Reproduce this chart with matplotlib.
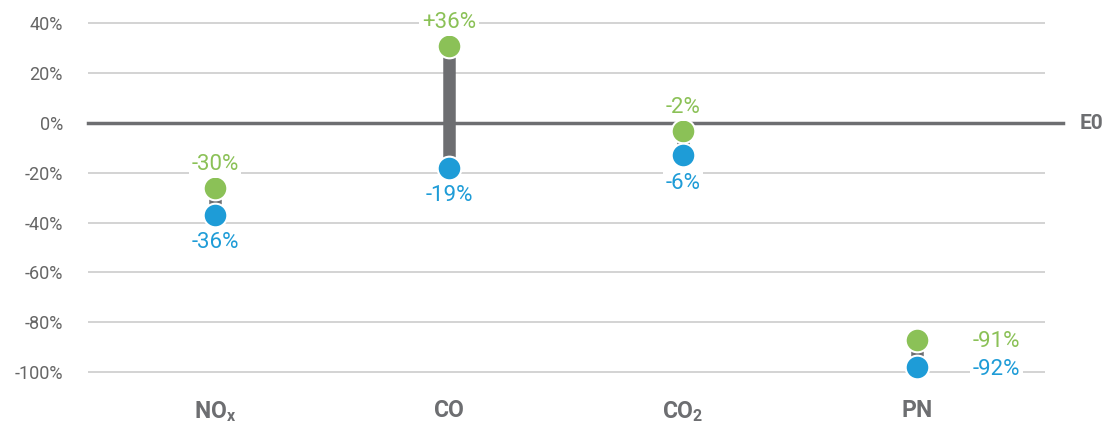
import matplotlib.pyplot as plt
import numpy as np

plt.rcParams['font.family'] = ['Roboto', 'DejaVu Sans']
plt.rcParams['mathtext.fontset'] = 'custom'
plt.rcParams['mathtext.rm'] = 'Roboto'
plt.rcParams['mathtext.bf'] = 'Roboto:bold'

# dados
categorias = [r'$\mathbf{NO_x}$', r'$\mathbf{CO}$', r'$\mathbf{CO_2}$', r'$\mathbf{PN}$']
verde = np.array([-26, 31, -3, -87])
azul = np.array([-37, -18, -13, -98])
rot_verde = ['-30%', '+36%', '-2%', '-91%']
rot_azul = ['-36%', '-19%', '-6%', '-92%']
yticks = [40, 20, 0, -20, -40, -60, -80, -100]

cor_verde = '#8BC157'
cor_azul = '#1E9CD7'
cinza = '#6D6E71'

fig = plt.figure(figsize=(11.08, 4.25), dpi=100)
ax = fig.add_axes([88 / 1108, 33 / 425, (1045 - 88) / 1108, 381 / 425])

x = np.arange(len(categorias))
ax.set_xlim(-0.543, 3.547)
ax.set_ylim(-108, 45)

for t in yticks:
    if t != 0:
        ax.axhline(t, color='#D3D3D3', lw=1.4, zorder=0)
ax.axhline(0, xmax=1.019, color=cinza, lw=2.5, zorder=1, clip_on=False)
ax.text(1.036, 0, 'E0', transform=ax.get_yaxis_transform(), ha='left', va='center',
        fontsize=15, fontweight='bold', color=cinza)

# ligacoes entre os pontos
ax.vlines(x, azul, verde, color=cinza, lw=9, zorder=2)
ax.scatter(x, verde, s=290, color=cor_verde, edgecolor='white', linewidth=1.5, zorder=3)
ax.scatter(x, azul, s=290, color=cor_azul, edgecolor='white', linewidth=1.5, zorder=3)

caixa = dict(facecolor='white', edgecolor='none', pad=2)
fs = 16
for i in range(len(x)):
    if i < 3:
        ax.annotate(rot_verde[i], (x[i], verde[i]), xytext=(0, 16.5), textcoords='offset points',
                    ha='center', va='center', fontsize=fs, color=cor_verde, bbox=caixa, zorder=4)
        ax.annotate(rot_azul[i], (x[i], azul[i]), xytext=(0, -20), textcoords='offset points',
                    ha='center', va='center', fontsize=fs, color=cor_azul, bbox=caixa, zorder=4)
    else:
        ax.annotate(rot_verde[i], (x[i], verde[i]), xytext=(57, -1.5), textcoords='offset points',
                    ha='center', va='center', fontsize=fs, color=cor_verde, bbox=caixa, zorder=4)
        ax.annotate(rot_azul[i], (x[i], azul[i]), xytext=(57, -2), textcoords='offset points',
                    ha='center', va='center', fontsize=fs, color=cor_azul, bbox=caixa, zorder=4)

ax.set_yticks(yticks)
ax.set_yticklabels([f'{t}%' for t in yticks], fontsize=13, color='#666666')
ax.set_xticks(x)
ax.set_xticklabels(categorias, fontsize=16.5, color=cinza)
ax.tick_params(axis='y', length=0, pad=18)
ax.tick_params(axis='x', length=0, pad=5)
for s in ax.spines.values():
    s.set_visible(False)

fig.savefig('out.png', dpi=100)
